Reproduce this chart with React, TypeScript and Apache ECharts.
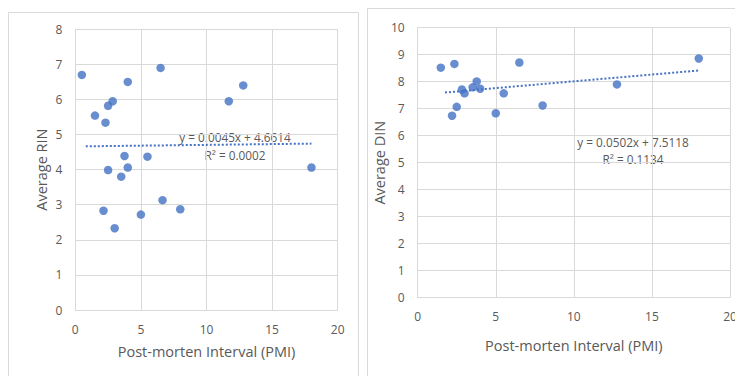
import React, { useEffect, useRef } from "react";
import * as echarts from "echarts";

// Left panel: PMI vs Average RIN
const rinPMI = [0.5, 6.5, 4.0, 12.8, 11.7, 2.85, 2.5, 1.5, 2.3, 3.75, 5.5, 18.0, 2.5, 4.0, 3.5, 6.65, 8.0, 2.15, 5.0, 3.0];
const rinValues = [6.7, 6.9, 6.5, 6.4, 5.95, 5.95, 5.82, 5.54, 5.34, 4.39, 4.37, 4.06, 3.99, 4.06, 3.8, 3.13, 2.87, 2.83, 2.72, 2.33];
const rinTrendX = [0.8, 18.0];
const rinTrendY = [4.665, 4.742];

// Right panel: PMI vs Average DIN
const dinPMI = [1.48, 2.35, 6.51, 18.0, 12.76, 3.78, 3.52, 4.0, 2.83, 3.0, 5.51, 2.5, 8.0, 2.2, 5.0];
const dinValues = [8.52, 8.66, 8.71, 8.86, 7.9, 8.01, 7.79, 7.74, 7.71, 7.57, 7.57, 7.07, 7.12, 6.74, 6.83];
const dinTrendX = [1.75, 18.0];
const dinTrendY = [7.6, 8.415];

const FONT = "'Open Sans', 'Liberation Sans', sans-serif";
const TXT = "#595959";
const BLUE = "#4472C4";
const GRID = "#d9d9d9";

function pairs(xs: number[], ys: number[]) {
  return xs.map((x, i) => [x, ys[i]]);
}

export default function App() {
  const ref = useRef<HTMLDivElement>(null);
  useEffect(() => {
    if (!ref.current) return;
    const chart = echarts.init(ref.current, undefined, { renderer: "svg" });
    const axisCommon = {
      type: "value" as const,
      axisLine: { show: true, lineStyle: { color: GRID } },
      axisTick: { show: false },
      splitLine: { show: true, lineStyle: { color: GRID, width: 1 } },
      nameLocation: "middle" as const,
      nameTextStyle: { color: TXT, fontSize: 14.5, fontFamily: FONT },
    };
    const labelCommon = { color: TXT, fontSize: 12, fontFamily: FONT };
    const eqStyle = { fill: TXT, fontSize: 11.8, fontFamily: FONT, align: "center", verticalAlign: "middle" };
    chart.setOption({
      animation: false,
      backgroundColor: "#ffffff",
      grid: [
        { left: 75.3, right: 397.3, top: 29.3, bottom: 66, outerBoundsMode: "none", containLabel: false },
        { left: 417.7, right: 5, top: 27.7, bottom: 78.3, outerBoundsMode: "none", containLabel: false },
      ],
      xAxis: [
        {
          ...axisCommon,
          gridIndex: 0,
          min: 0,
          max: 20,
          interval: 5,
          name: "Post-morten Interval (PMI)",
          nameGap: 34,
          axisLabel: { ...labelCommon, margin: 13 },
        },
        {
          ...axisCommon,
          gridIndex: 1,
          min: 0,
          max: 20,
          interval: 5,
          name: "Post-morten Interval (PMI)",
          nameGap: 40,
          axisLabel: { ...labelCommon, margin: 13 },
        },
      ],
      yAxis: [
        {
          ...axisCommon,
          gridIndex: 0,
          min: 0,
          max: 8,
          interval: 1,
          name: "Average RIN",
          nameGap: 26,
          axisLabel: { ...labelCommon, margin: 13 },
        },
        {
          ...axisCommon,
          gridIndex: 1,
          min: 0,
          max: 10,
          interval: 1,
          name: "Average DIN",
          nameGap: 29,
          axisLabel: { ...labelCommon, margin: 13 },
        },
      ],
      series: [
        {
          type: "line",
          xAxisIndex: 0,
          yAxisIndex: 0,
          data: pairs(rinTrendX, rinTrendY),
          showSymbol: false,
          symbol: "none",
          lineStyle: { color: BLUE, width: 2, type: [2, 2] },
          silent: true,
        },
        {
          type: "scatter",
          xAxisIndex: 0,
          yAxisIndex: 0,
          data: pairs(rinPMI, rinValues),
          symbolSize: 8.5,
          itemStyle: { color: BLUE },
        },
        {
          type: "line",
          xAxisIndex: 1,
          yAxisIndex: 1,
          data: pairs(dinTrendX, dinTrendY),
          showSymbol: false,
          symbol: "none",
          lineStyle: { color: BLUE, width: 2, type: [2, 2] },
          silent: true,
        },
        {
          type: "scatter",
          xAxisIndex: 1,
          yAxisIndex: 1,
          data: pairs(dinPMI, dinValues),
          symbolSize: 8.5,
          itemStyle: { color: BLUE },
        },
      ],
      graphic: [
        {
          type: "rect",
          shape: { x: 8.5, y: 12.5, width: 350, height: 380 },
          style: { fill: "none", stroke: "#d9d9d9", lineWidth: 1 },
          silent: true,
          z: -1,
        },
        {
          type: "rect",
          shape: { x: 367.5, y: 8.5, width: 380, height: 380 },
          style: { fill: "none", stroke: "#d9d9d9", lineWidth: 1 },
          silent: true,
          z: -1,
        },
        { type: "text", x: 235, y: 137, style: { text: "y = 0.0045x + 4.6614", ...eqStyle } },
        { type: "text", x: 235, y: 155, style: { text: "R² = 0.0002", ...eqStyle } },
        { type: "text", x: 633, y: 142, style: { text: "y = 0.0502x + 7.5118", ...eqStyle } },
        { type: "text", x: 633, y: 159, style: { text: "R² = 0.1134", ...eqStyle } },
      ],
    });
    return () => chart.dispose();
  }, []);
  return (
    <div
      ref={ref}
      style={{ position: "fixed", left: 0, top: 0, width: 735, height: 376 }}
    />
  );
}
